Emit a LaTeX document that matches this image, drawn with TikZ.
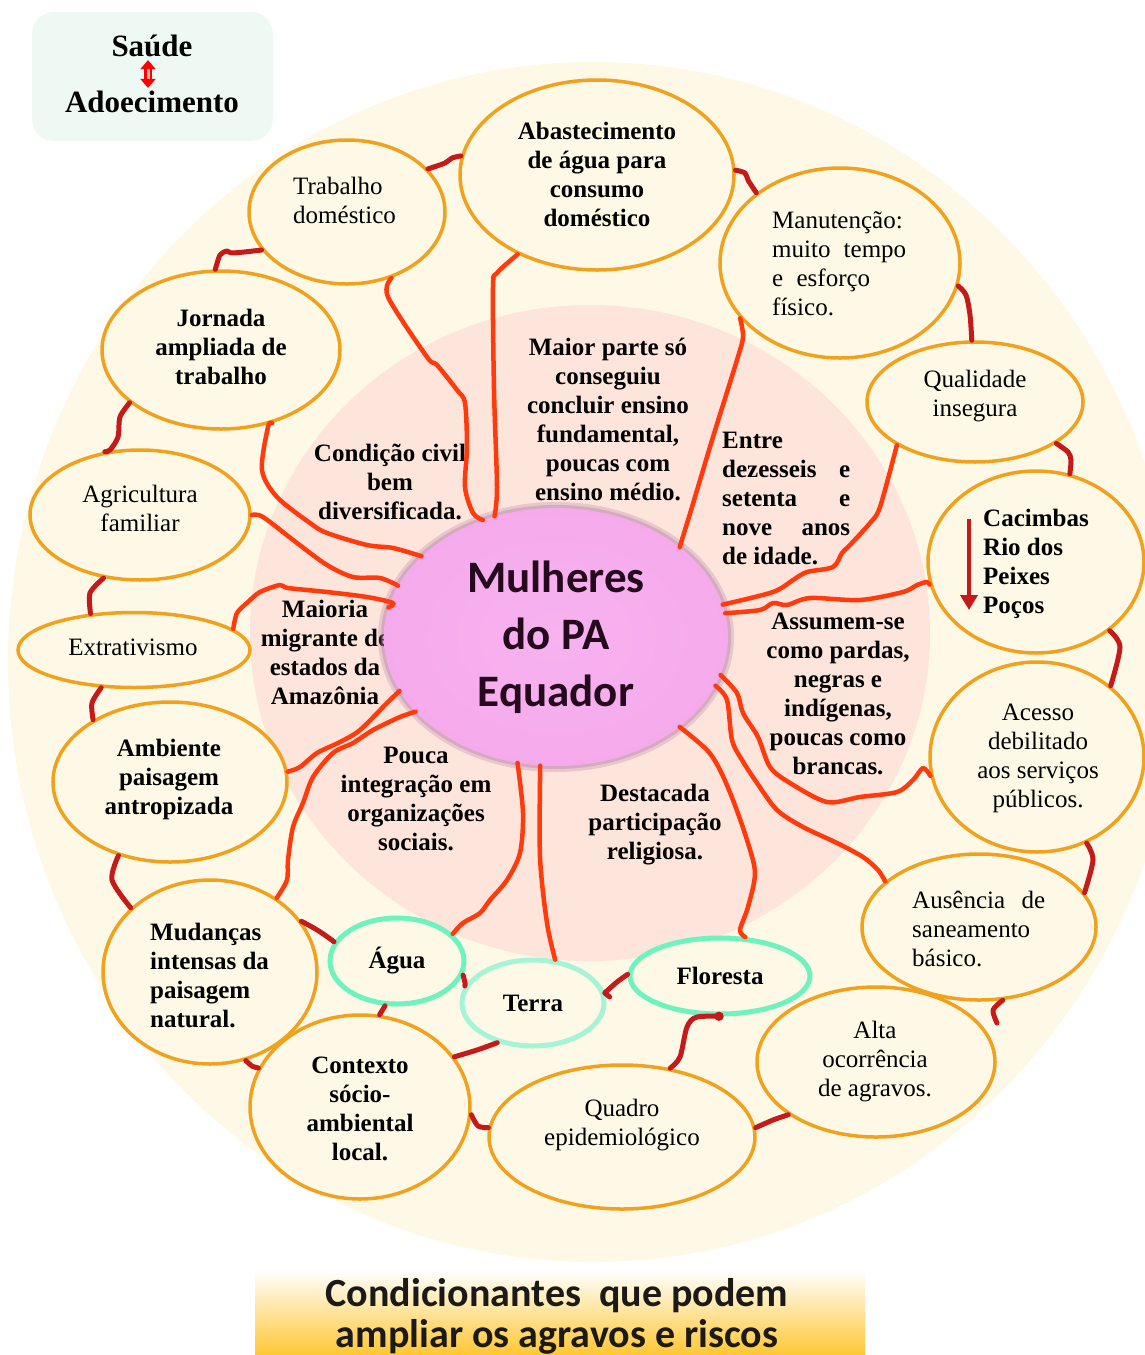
\documentclass[tikz,border=0pt]{standalone}
\usepackage{fontspec}
\setmainfont{Liberation Serif}
\newfontfamily\calibri{Carlito}
\usetikzlibrary{shapes.geometric, arrows.meta}

\definecolor{cream}{HTML}{FEF8E6}
\definecolor{blush}{HTML}{FDE5DC}
\definecolor{ovalrim}{HTML}{F0A21E}
\definecolor{mint}{HTML}{6EF2BE}
\definecolor{palemint}{HTML}{A6F4D6}
\definecolor{spokered}{HTML}{FF3A0C}
\definecolor{linkred}{HTML}{C41A1A}
\definecolor{boxmint}{HTML}{EFF9F4}
\definecolor{orchidhi}{HTML}{F8B2F0}
\definecolor{orchid}{HTML}{F4A8EA}
\definecolor{orchiddeep}{HTML}{E898DC}
\definecolor{orchidrim}{HTML}{A86AA0}
\definecolor{centreink}{HTML}{240A1C}
\definecolor{bannerink}{HTML}{1C1A18}

\newcommand\bodyfont{\fontsize{25}{29}\selectfont}
\newcommand\titlefont{\bfseries\fontsize{31}{36}\selectfont}
\newcommand\centrefont{\calibri\bfseries\fontsize{45}{57}\selectfont}
\newcommand\bannerfont{\calibri\bfseries\fontsize{40}{41}\selectfont}

% soft pink disc with a darker rim for the central node
\pgfdeclareradialshading{orchidglow}{\pgfpoint{0bp}{0bp}}{%
  color(0bp)=(orchidhi); color(32bp)=(orchid); color(44bp)=(orchiddeep);
  color(48bp)=(orchidrim); color(50bp)=(orchidrim!50!blush)}

\begin{document}
\begin{tikzpicture}[x=1pt, y=-1pt,
  oval/.style={ellipse, draw=ovalrim, line width=3.5, fill=cream, inner sep=0},
  leaf/.style={ellipse, draw=mint, line width=5, fill=cream, inner sep=0, font=\bodyfont\bfseries},
  txt/.style={font=\bodyfont, align=center, inner sep=0},
  btxt/.style={font=\bodyfont\bfseries, align=center, inner sep=0},
  spoke/.style={draw=spokered, line width=4.5, line cap=round, line join=round},
  link/.style={draw=linkred, line width=5, line cap=round, line join=round}
]
\useasboundingbox (0,0) rectangle (1144,1355);

% backgrounds
\fill[cream] (593,662) ellipse (585 and 600);
\fill[blush] (590,633) ellipse (340 and 328);

% title box
\fill[boxmint, rounded corners=22] (32,12) rectangle (273,141);
\node[font=\titlefont, inner sep=0] (saude) at (152,46) {Saúde};
\node[font=\titlefont, inner sep=0] (adoec) at (152,102) {Adoecimento};
\draw[red, line width=2.4, double=red!30, double distance=3,
  {Triangle[width=15pt, length=9pt]}-{Triangle[width=15pt, length=9pt]}]
  ([xshift=-4, yshift=-3]saude.south) -- ([xshift=-4, yshift=3]adoec.north);

% outer ring of conditions
\node[oval, minimum width=196, minimum height=144] (trab) at (347,212) {};
\node[oval, minimum width=274, minimum height=190] (abast) at (597,175) {};
\node[oval, minimum width=240, minimum height=190] (manut) at (840,263) {};
\node[oval, minimum width=216, minimum height=120] (qual) at (975,402) {};
\node[oval, minimum width=216, minimum height=182] (cacim) at (1036,562) {};
\node[oval, minimum width=214, minimum height=190] (acess) at (1037,757) {};
\node[oval, minimum width=234, minimum height=146] (ausen) at (979,927) {};
\node[oval, minimum width=238, minimum height=150] (alta) at (876,1062) {};
\node[oval, minimum width=266, minimum height=144] (quadro) at (622,1137) {};
\node[oval, minimum width=220, minimum height=184] (contx) at (360,1107) {};
\node[oval, minimum width=214, minimum height=184] (mudan) at (210,972) {};
\node[oval, minimum width=234, minimum height=160] (ambie) at (170,782) {};
\node[oval, minimum width=232, minimum height=75] (extra) at (134,650) {};
\node[oval, minimum width=220, minimum height=130] (agric) at (140,515) {};
\node[oval, minimum width=238, minimum height=158] (jorna) at (221,350) {};

\node[leaf, minimum width=134, minimum height=86] (agua) at (397,961) {Água};
\node[leaf, draw=palemint, minimum width=142, minimum height=86] (terra) at (533,1003) {Terra};
\node[leaf, minimum width=180, minimum height=76] (flore) at (720,976) {Floresta};

% texts of the ring
\node[txt, align=left, anchor=west] (trab-t) at (293,200) {Trabalho\\doméstico};
\node[btxt] (abast-t) at (597,174) {Abastecimento\\de água para\\consumo\\doméstico};
\node[txt, align=left, anchor=west] (manut-t) at (772,264) {Manutenção:\\\hbox to 134pt{muito\hfill tempo}\\\hbox to 98pt{e\hfill esforço}\\físico.};
\node[txt] (qual-t) at (975,396) {Qualidade\\insegura};
\node[btxt, align=left, anchor=west] (cacim-t) at (983,564) {Cacimbas\\Rio dos\\Peixes\\Poços};
\node[txt] (acess-t) at (1038,758) {Acesso\\debilitado\\aos serviços\\públicos.};
\node[txt, align=left, anchor=west] (ausen-t) at (912,929) {\hbox to 133pt{Ausência\hfill de}\\saneamento\\básico.};
\node[txt] (alta-t) at (875,1062) {Alta\\ocorrência\\de agravos.};
\node[txt] (quadro-t) at (622,1125) {Quadro\\epidemiológico};
\node[btxt] (contx-t) at (360,1109) {Contexto\\sócio-\\ambiental\\local.};
\node[btxt, align=left, anchor=west] (mudan-t) at (150,975) {Mudanças\\intensas da\\paisagem\\natural.};
\node[btxt] (ambie-t) at (169,779) {Ambiente\\paisagem\\antropizada};
\node[txt] (extra-t) at (133,647) {Extrativismo};
\node[txt] (agric-t) at (140,508) {Agricultura\\familiar};
\node[btxt] (jorna-t) at (221,347) {Jornada\\ampliada de\\trabalho};

\draw[linkred, line width=4, -{Triangle[width=17pt, length=15pt]}] (969,519) -- (969,610);

% traits inside the pink disc
\node[btxt] (civil) at (390,482) {Condição civil\\bem\\diversificada.};
\node[btxt] (ensino) at (608,419) {Maior parte só\\conseguiu\\concluir ensino\\fundamental,\\poucas com\\ensino médio.};
\node[btxt, align=left, anchor=west] (idade) at (722,498) {Entre\\\hbox to 128pt{dezesseis\hfill e}\\\hbox to 128pt{setenta\hfill e}\\\hbox to 128pt{nove\hfill anos}\\de idade.};
\node[btxt] (raca) at (838,694) {Assumem-se\\como pardas,\\negras e\\indígenas,\\poucas como\\brancas.};
\node[btxt] (origem) at (325,652) {Maioria\\migrante de\\estados da\\Amazônia};
\node[btxt] (social) at (416,799) {Pouca\\integração em\\organizações\\sociais.};
\node[btxt] (fe) at (655,825) {Destacada\\participação\\religiosa.};

% central node
\fill[orchidrim, opacity=.25] (556,637) ellipse (178 and 135);
\fill[orchidrim, opacity=.3] (556,637) ellipse (175 and 132);
\node[shade, shading=orchidglow, ellipse, minimum width=344, minimum height=258,
  inner sep=0, align=center, font=\centrefont, text=centreink] (mulheres) at (556,637)
  {Mulheres\\do PA\\Equador};

% spokes from the centre
\draw[spoke] plot[smooth, tension=.5] coordinates {(trab.-56) (388,297) (427,357) (437,365) (457,390) (465,403) (467,447) (465,487) (473,513) (mulheres.122)};
\draw[spoke] plot[smooth, tension=.5] coordinates {(abast.-135) (497,273) (493,287) (494,390) (497,487) (mulheres.117)};
\draw[spoke] plot[smooth, tension=.5] coordinates {(manut.-151) (743,337) (737,360) (713,437) (692,507) (mulheres.36)};
\draw[spoke] plot[smooth, tension=.5] coordinates {(qual.-151) (880,507) (870,523) (850,545) (842,553) (833,567) (807,572) (793,580) (773,592) (mulheres.11)};
\draw[spoke] plot[smooth, tension=.5] coordinates {(cacim.-168) (927,582) (917,585) (903,592) (860,600) (810,598) (787,605) (773,603) (760,610) (mulheres.8)};
\draw[spoke] plot[smooth, tension=.5] coordinates {(acess.-170) (923,768) (913,780) (897,792) (860,797) (827,802) (790,783) (770,767) (758,737) (743,713) (737,693) (mulheres.-13)};
\draw[spoke] plot[smooth, tension=.5] coordinates {(ausen.154) (878,870) (863,857) (837,843) (803,827) (777,810) (757,783) (742,760) (732,740) (727,700) (mulheres.-17)};
\draw[spoke] plot[smooth, tension=.5] coordinates {(flore.57) (740,930) (748,907) (755,873) (747,840) (733,800) (720,770) (707,750) (mulheres.-36)};
\draw[spoke] plot[smooth, tension=.5] coordinates {(terra.63) (547,923) (540,857) (mulheres.-97)};
\draw[spoke] plot[smooth, tension=.5] coordinates {(agua.26) (463,923) (480,913) (490,900) (507,880) (520,853) (523,813) (mulheres.-107)};
\draw[spoke] plot[smooth, tension=.5] coordinates {(mudan.48) (287,880) (288,860) (293,827) (303,803) (313,777) (333,753) (353,743) (373,730) (400,717) (mulheres.-152)};
\draw[spoke] plot[smooth, tension=.5] coordinates {(ambie.5) (300,767) (317,753) (340,742) (360,730) (387,703) (mulheres.-161)};
\draw[spoke] plot[smooth, tension=.5] coordinates {(extra.12) (237,613) (248,602) (260,592) (280,585) (288,588) (327,592) (367,597) (393,603) (mulheres.170)};
\draw[spoke] plot[smooth, tension=.5] coordinates {(agric.0) (263,517) (297,543) (327,565) (353,577) (380,578) (mulheres.162)};
\draw[spoke] plot[smooth, tension=.5] coordinates {(jorna.-55) (268,427) (262,470) (277,497) (310,523) (327,533) (367,545) (393,548) (mulheres.149)};

% links around the ring
\coordinate (stub) at (997,1023);
\draw[link] plot[smooth, tension=.5] coordinates {(trab.-156) (233,253) (227,251) (220,255) (jorna.94)};
\draw[link] plot[smooth, tension=.5] coordinates {(trab.28) (445,163) (452,158) (abast.172)};
\draw[link] plot[smooth, tension=.5] coordinates {(abast.2) (745,173) (748,180) (manut.140)};
\draw[link] plot[smooth, tension=.5] coordinates {(manut.-11) (966,295) (970,315) (qual.93)};
\draw[link] plot[smooth, tension=.5] coordinates {(qual.-27) (1068,452) (1071,460) (cacim.69)};
\draw[link] plot[smooth, tension=.5] coordinates {(cacim.-43) (1120,647) (acess.44)};
\draw[link] plot[smooth, tension=.5] coordinates {(acess.-60) (1093,860) (ausen.18)};
\draw[link] plot[smooth, tension=.5] coordinates {(ausen.-72) (993,1010) (stub)};
\draw[link] plot[smooth, tension=.5] coordinates {(alta.-149) (773,1120) (quadro.4)};
\draw[link, -{Circle[length=9pt]}] plot[smooth, tension=.5] coordinates {(quadro.55) (680,1057) (687,1027) (697,1017) (flore.-85)};
\draw[link] plot[smooth, tension=.5] coordinates {(flore.179) (617,982) (terra.8)} -- ++(5,4);
\draw[link] plot[smooth, tension=.5] coordinates {(agua.-12) (465,983) (terra.166)};
\draw[link] (agua.-105) -- (contx.78);
\draw[link] plot[smooth, tension=.5] coordinates {(terra.-132) (477,1050) (contx.28)};
\draw[link] (mudan.29) to[bend left=5] (agua.163);
\draw[link] plot[smooth, tension=.5] coordinates {(contx.-4) (478,1126) (quadro.176)};
\draw[link] plot[smooth, tension=.5] coordinates {(mudan.-68) (252,1066) (contx.159)};
\draw[link] plot[smooth, tension=.5] coordinates {(ambie.-125) (112,880) (mudan.141)};
\draw[link] plot[smooth, tension=.5] coordinates {(extra.-131) (92,703) (ambie.141)};
\draw[link] plot[smooth, tension=.5] coordinates {(agric.-120) (90,593) (extra.140)};
\draw[link] plot[smooth, tension=.5] coordinates {(jorna.-150) (120,417) (118,437) (110,450) (agric.119)};

% caption strip
\shade[top color=white, middle color=yellow!45!orange!55!white, bottom color=orange!55!yellow!80]
  (255,1270) rectangle (865,1355);
\node[font=\bannerfont, text=bannerink, align=center, inner sep=0] (caption) at (557,1316)
  {Condicionantes\ \ que podem\\ampliar os agravos e riscos};
\end{tikzpicture}
\end{document}
